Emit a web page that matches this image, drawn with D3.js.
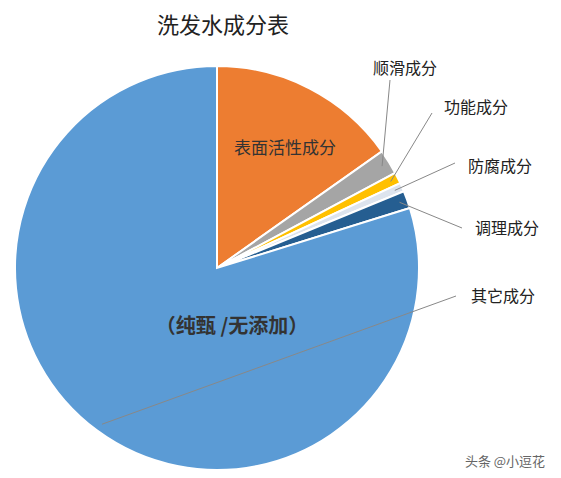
<!DOCTYPE html>
<html><head><meta charset="utf-8">
<script src="https://cdn.jsdelivr.net/npm/d3@7"></script>
<style>body{margin:0;background:#fff}text{font-family:"Noto Sans CJK SC",sans-serif}</style>
</head><body><svg id="chart"></svg>
<script>
// ----- data -----
let categories = ["表面活性成分", "顺滑成分", "功能成分", "防腐成分", "调理成分", "其它成分"];
let values = [15.2, 2.0, 0.9, 0.7, 1.4, 79.8];
let colors = ["#ed7d31", "#a5a5a5", "#ffc000", "#dde4ee", "#255e91", "#5b9bd5"];
// label anchors for the small slices (outside), index -> [x, y]
let outsideLabels = {1: [405, 68], 2: [476, 107], 3: [500, 166], 4: [507, 228], 5: [503, 296]};
let elbows = {1: [390, 80], 2: [432, 113], 3: [455, 163], 4: [462, 228], 5: [456, 296]};

let svgWidth = 561, svgHeight = 478;
let cx = 217, cy = 268, radius = 202;

let svg = d3.select("#chart").attr("width", svgWidth).attr("height", svgHeight);

svg.append("text").attr("x", 223).attr("y", 33).attr("text-anchor", "middle")
    .attr("font-size", 22).attr("fill", "#222").text("洗发水成分表");

let pie = d3.pie().sort(null).value(d => d);
let arcs = pie(values);
let arc = d3.arc().innerRadius(0).outerRadius(radius);

let g = svg.append("g").attr("transform", `translate(${cx}, ${cy})`);
g.selectAll("path").data(arcs).enter().append("path")
    .attr("d", arc)
    .attr("fill", (d, i) => colors[i])
    .attr("stroke", "#fff").attr("stroke-width", 2);

// leader lines from slice edge to labels
let edge = d3.arc().innerRadius(radius - 8).outerRadius(radius - 8);
arcs.forEach((d, i) => {
    if (!outsideLabels[i]) return;
    let c = edge.centroid(d);
    let p0 = [cx + c[0], cy + c[1]];
    let e = elbows[i];
    svg.append("polyline")
        .attr("points", [p0, e].map(p => p.join(",")).join(" "))
        .attr("fill", "none").attr("stroke", "#888").attr("stroke-width", 1);
    svg.append("text").attr("x", outsideLabels[i][0]).attr("y", outsideLabels[i][1] + 6)
        .attr("text-anchor", "middle").attr("font-size", 16).attr("fill", "#222")
        .text(categories[i]);
});

svg.append("text").attr("x", 285).attr("y", 154).attr("text-anchor", "middle")
    .attr("font-size", 17).attr("fill", "#333").text(categories[0]);
svg.append("text").attr("x", 232).attr("y", 333).attr("text-anchor", "middle")
    .attr("font-size", 20).attr("font-weight", "bold").attr("fill", "#333").text("（纯甄 /无添加）");

svg.append("text").attr("x", 505).attr("y", 466).attr("text-anchor", "middle")
    .attr("font-size", 13).attr("fill", "#666").text("头条 @小逗花");
</script></body></html>
